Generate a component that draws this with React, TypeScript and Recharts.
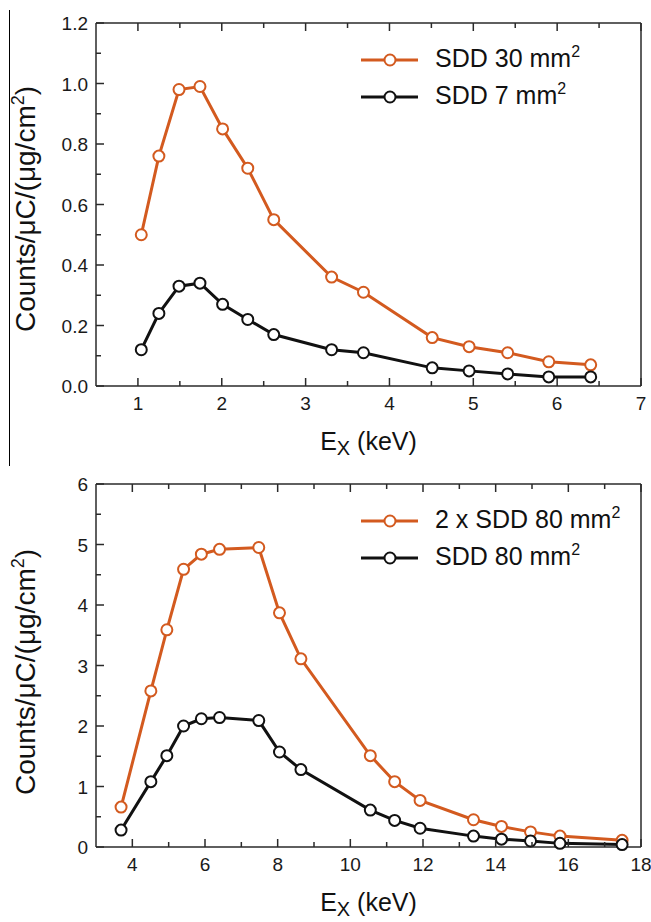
import React from 'react';
import { LineChart, Line, XAxis, YAxis, Legend } from 'recharts';

// ---------- data ----------
const topEnergies = [1.04, 1.25, 1.49, 1.74, 2.01, 2.31, 2.62, 3.31, 3.69, 4.51, 4.95, 5.41, 5.9, 6.4];
const topSdd30 = [0.5, 0.76, 0.98, 0.99, 0.85, 0.72, 0.55, 0.36, 0.31, 0.16, 0.13, 0.11, 0.08, 0.07];
const topSdd7 = [0.12, 0.24, 0.33, 0.34, 0.27, 0.22, 0.17, 0.12, 0.11, 0.06, 0.05, 0.04, 0.03, 0.03];

const bottomEnergies = [3.69, 4.51, 4.95, 5.41, 5.9, 6.4, 7.48, 8.05, 8.64, 10.55, 11.22, 11.92, 13.39, 14.16, 14.96, 15.77, 17.48];
const bottom2xSdd80 = [0.66, 2.58, 3.59, 4.59, 4.84, 4.92, 4.95, 3.87, 3.11, 1.51, 1.08, 0.77, 0.45, 0.34, 0.25, 0.18, 0.11];
const bottomSdd80 = [0.28, 1.08, 1.51, 2.0, 2.12, 2.14, 2.09, 1.57, 1.28, 0.61, 0.44, 0.31, 0.18, 0.13, 0.1, 0.06, 0.04];

const topXTicks = [1, 1.5, 2, 2.5, 3, 3.5, 4, 4.5, 5, 5.5, 6, 6.5, 7];
const topYTicks = [0, 0.1, 0.2, 0.3, 0.4, 0.5, 0.6, 0.7, 0.8, 0.9, 1.0, 1.1, 1.2];
const bottomXTicks = [4, 5, 6, 7, 8, 9, 10, 11, 12, 13, 14, 15, 16, 17, 18];
const bottomYTicks = [0, 0.5, 1, 1.5, 2, 2.5, 3, 3.5, 4, 4.5, 5, 5.5, 6];

const topSeriesNames = ['SDD 30 mm', 'SDD 7 mm'];
const bottomSeriesNames = ['2 x SDD 80 mm', 'SDD 80 mm'];

const ORANGE = '#d35a1f';
const BLACK = '#111111';
const AXIS = '#2a2a2a';
const FONT = '"Liberation Sans", Arial, Helvetica, sans-serif';

const topData = topEnergies.map((e, i) => ({ e, a: topSdd30[i], b: topSdd7[i] }));
const bottomData = bottomEnergies.map((e, i) => ({ e, a: bottom2xSdd80[i], b: bottomSdd80[i] }));

const MAJOR = 8;
const MINOR = 5;

type TickFactory = (isMajor: (v: number) => boolean, fmt?: (v: number) => string) => any;

const bottomTick: TickFactory = (isMajor, fmt) => (props: any) => {
  const { x, y, payload } = props;
  const v = payload.value;
  const m = isMajor(v);
  return (
    <g>
      <line x1={x} x2={x} y1={y} y2={y - (m ? MAJOR : MINOR)} stroke={AXIS} strokeWidth={1.5} />
      {m && (
        <text x={x} y={y + 24} textAnchor="middle" fontSize={19} fontFamily={FONT} fill="#1a1a1a">
          {fmt ? fmt(v) : String(v)}
        </text>
      )}
    </g>
  );
};

const topTick: TickFactory = (isMajor) => (props: any) => {
  const { x, y, payload } = props;
  const m = isMajor(payload.value);
  return <line x1={x} x2={x} y1={y} y2={y + (m ? MAJOR : MINOR)} stroke={AXIS} strokeWidth={1.5} />;
};

const leftTick: TickFactory = (isMajor, fmt) => (props: any) => {
  const { x, y, payload } = props;
  const v = payload.value;
  const m = isMajor(v);
  return (
    <g>
      <line x1={x} x2={x + (m ? MAJOR : MINOR)} y1={y} y2={y} stroke={AXIS} strokeWidth={1.5} />
      {m && (
        <text x={x - 8} y={y + 7} textAnchor="end" fontSize={19} fontFamily={FONT} fill="#1a1a1a">
          {fmt ? fmt(v) : String(v)}
        </text>
      )}
    </g>
  );
};

const rightTick: TickFactory = (isMajor) => (props: any) => {
  const { x, y, payload } = props;
  const m = isMajor(payload.value);
  return <line x1={x} x2={x - (m ? MAJOR : MINOR)} y1={y} y2={y} stroke={AXIS} strokeWidth={1.5} />;
};

const xLabel = (cx: number, baseline: number) => () => (
  <text x={cx} y={baseline} textAnchor="middle" fontSize={25} fontFamily={FONT} fill="#111">
    E
    <tspan fontSize={20} dy={5}>X</tspan>
    <tspan fontSize={25} dy={-5}> (keV)</tspan>
  </text>
);

const yLabel = (bx: number, cy: number) => () => (
  <text
    x={bx}
    y={cy}
    textAnchor="middle"
    fontSize={28}
    fontFamily={FONT}
    fill="#111"
    transform={`rotate(-90, ${bx}, ${cy})`}
  >
    Counts/μC/(μg/cm
    <tspan fontSize={18} dy={-11}>2</tspan>
    <tspan fontSize={28} dy={11}>)</tspan>
  </text>
);

const legendContent = (names: string[]) => (props: any) => {
  const payload = props.payload || [];
  return (
    <div style={{ fontFamily: FONT }}>
      {payload.map((p: any, i: number) => (
        <div key={i} style={{ display: 'flex', alignItems: 'center', height: 36.6, lineHeight: '36.6px' }}>
          <svg width={57} height={16} style={{ marginRight: 17, flex: 'none' }}>
            <line x1={0} x2={57} y1={8} y2={8} stroke={p.color} strokeWidth={3} />
            <circle cx={29} cy={8} r={5.5} fill="#fff" stroke={p.color} strokeWidth={2} />
          </svg>
          <span style={{ fontSize: 25, color: '#111', whiteSpace: 'nowrap' }}>
            {names[i]}
            <span style={{ fontSize: 16, position: 'relative', top: -10 }}>2</span>
          </span>
        </div>
      ))}
    </div>
  );
};

interface PanelProps {
  data: any[];
  xDomain: [number, number];
  yDomain: [number, number];
  xTicks: number[];
  yTicks: number[];
  xMajor: (v: number) => boolean;
  yMajor: (v: number) => boolean;
  yFmt?: (v: number) => string;
  height: number;
  marginTop: number;
  xAxisHeight: number;
  names: string[];
  legendTop: number;
  xLabelBaseline: number;
  yLabelCenter: number;
}

function Panel(p: PanelProps) {
  return (
    <LineChart
      width={651}
      height={p.height}
      data={p.data}
      margin={{ top: p.marginTop, right: 0, bottom: 0, left: 0 }}
    >
      <XAxis
        xAxisId="bottom"
        dataKey="e"
        type="number"
        domain={p.xDomain}
        ticks={p.xTicks}
        interval={0}
        height={p.xAxisHeight}
        tickSize={0}
        tickMargin={0}
        tickLine={false}
        axisLine={{ stroke: AXIS, strokeWidth: 1.5 }}
        tick={bottomTick(p.xMajor)}
        label={{ content: xLabel(368.5, p.xLabelBaseline) }}
      />
      <XAxis
        xAxisId="top"
        orientation="top"
        dataKey="e"
        type="number"
        domain={p.xDomain}
        ticks={p.xTicks}
        interval={0}
        height={1}
        tickSize={0}
        tickMargin={0}
        tickLine={false}
        axisLine={{ stroke: AXIS, strokeWidth: 1.5 }}
        tick={topTick(p.xMajor)}
      />
      <YAxis
        yAxisId="left"
        type="number"
        domain={p.yDomain}
        ticks={p.yTicks}
        interval={0}
        width={96}
        tickSize={0}
        tickMargin={0}
        tickLine={false}
        axisLine={{ stroke: AXIS, strokeWidth: 1.5 }}
        tick={leftTick(p.yMajor, p.yFmt)}
        label={{ content: yLabel(35, p.yLabelCenter) }}
      />
      <YAxis
        yAxisId="right"
        orientation="right"
        type="number"
        domain={p.yDomain}
        ticks={p.yTicks}
        interval={0}
        width={10}
        tickSize={0}
        tickMargin={0}
        tickLine={false}
        axisLine={{ stroke: AXIS, strokeWidth: 1.5 }}
        tick={rightTick(p.yMajor)}
      />
      <Legend
        layout="vertical"
        verticalAlign="middle"
        align="center"
        content={legendContent(p.names)}
        wrapperStyle={{ left: 361, top: p.legendTop, width: 290, height: 74 }}
      />
      <Line
        xAxisId="bottom"
        yAxisId="left"
        type="linear"
        dataKey="a"
        name={p.names[0]}
        stroke={ORANGE}
        strokeWidth={3}
        dot={{ r: 5.5, fill: '#fff', stroke: ORANGE, strokeWidth: 2 }}
        activeDot={false}
        isAnimationActive={false}
      />
      <Line
        xAxisId="bottom"
        yAxisId="left"
        type="linear"
        dataKey="b"
        name={p.names[1]}
        stroke={BLACK}
        strokeWidth={3}
        dot={{ r: 5.5, fill: '#fff', stroke: BLACK, strokeWidth: 2 }}
        activeDot={false}
        isAnimationActive={false}
      />
    </LineChart>
  );
}

export default function App() {
  return (
    <div style={{ position: 'absolute', left: 0, top: 0, width: 651, height: 922, background: '#fff' }}>
      <div style={{ position: 'absolute', left: 9, top: 10, width: 1.3, height: 456, background: '#000' }} />
      <div style={{ position: 'absolute', left: 0, top: 0 }}>
        <Panel
          data={topData}
          xDomain={[0.5, 7]}
          yDomain={[0, 1.2]}
          xTicks={topXTicks}
          yTicks={topYTicks}
          xMajor={(v) => Number.isInteger(v)}
          yMajor={(v) => Math.round(v * 10) % 2 === 0}
          yFmt={(v) => v.toFixed(1)}
          height={460}
          marginTop={22}
          xAxisHeight={74}
          names={topSeriesNames}
          legendTop={42}
          xLabelBaseline={450}
          yLabelCenter={209}
        />
      </div>
      <div style={{ position: 'absolute', left: 0, top: 460 }}>
        <Panel
          data={bottomData}
          xDomain={[3, 18]}
          yDomain={[0, 6]}
          xTicks={bottomXTicks}
          yTicks={bottomYTicks}
          xMajor={(v) => v % 2 === 0}
          yMajor={(v) => Number.isInteger(v)}
          height={462}
          marginTop={23}
          xAxisHeight={75}
          names={bottomSeriesNames}
          legendTop={43}
          xLabelBaseline={451}
          yLabelCenter={212}
        />
      </div>
    </div>
  );
}
